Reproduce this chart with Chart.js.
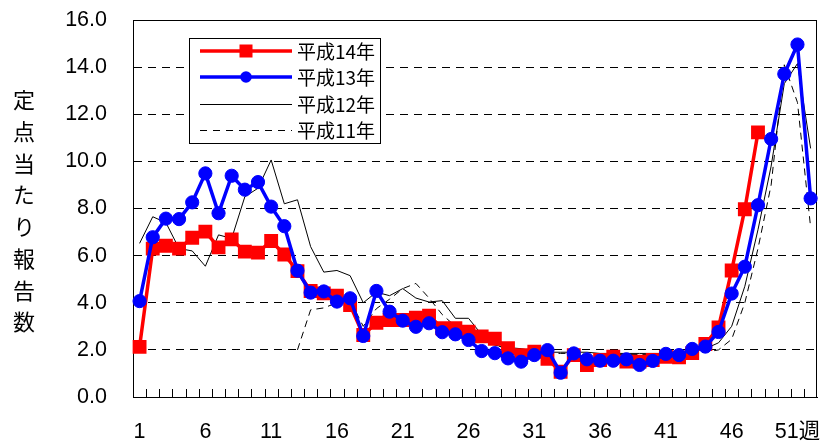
<!DOCTYPE html>
<html><head><meta charset="utf-8">
<script src="https://cdn.jsdelivr.net/npm/chart.js@4.4.0/dist/chart.umd.min.js"></script>
<style>
html,body{margin:0;padding:0;background:#fff;}
#wrap{position:relative;width:827px;height:443px;}
#ytitle{position:absolute;left:13px;top:89px;font-size:22px;font-family:"Noto Sans CJK JP",sans-serif;writing-mode:vertical-rl;text-orientation:upright;letter-spacing:9.7px;line-height:22px;color:#000;}
</style></head><body>
<div id="wrap"><canvas id="c" width="827" height="443"></canvas><div id="ytitle">定点当たり報告数</div></div>
<script>
const weeks = ['1','2','3','4','5','6','7','8','9','10','11','12','13','14','15','16','17','18','19','20','21','22','23','24','25','26','27','28','29','30','31','32','33','34','35','36','37','38','39','40','41','42','43','44','45','46','47','48','49','50','51','52'];
const tickLabels = ['1','6','11','16','21','26','31','36','41','46','51週'];
const seriesNames = ['平成14年','平成13年','平成12年','平成11年'];

const h14 = [2.13,6.30,6.42,6.30,6.76,7.02,6.35,6.69,6.17,6.13,
             6.62,6.05,5.34,4.50,4.40,4.30,3.90,2.63,3.15,3.27,
             3.27,3.37,3.45,2.92,2.92,2.77,2.57,2.47,2.07,1.78,
             1.92,1.62,1.07,1.78,1.36,1.57,1.71,1.50,1.50,1.57,
             1.70,1.68,1.86,2.25,2.95,5.37,7.97,11.23,null,null,
             null,null];
const h13 = [4.07,6.78,7.57,7.55,8.26,9.49,7.80,9.39,8.80,9.12,
             8.08,7.25,5.36,4.43,4.48,4.05,4.19,2.59,4.50,3.62,
             3.24,2.98,3.13,2.75,2.66,2.42,1.95,1.86,1.64,1.50,
             1.78,1.99,1.03,1.85,1.60,1.54,1.54,1.60,1.36,1.53,
             1.83,1.78,2.04,2.14,2.76,4.39,5.53,8.14,10.95,13.71,
             14.96,8.43];
const h12 = [6.52,7.65,7.40,6.30,6.20,5.55,6.88,6.73,8.50,8.86,
             10.06,8.20,8.37,6.38,5.30,5.37,5.15,4.00,4.45,4.30,
             4.60,4.20,4.03,4.09,3.34,3.34,2.65,2.20,2.10,2.05,
             1.95,1.90,1.90,1.90,1.90,1.85,1.85,1.85,1.85,1.85,
             1.85,1.90,1.95,2.05,2.30,3.00,4.70,7.10,9.80,13.30,
             14.15,10.55];
const h11 = [null,null,null,null,null,null,null,null,null,null,
             null,null,2.00,3.70,3.78,4.00,4.10,3.00,3.75,4.15,
             4.60,4.82,4.20,3.50,3.00,2.70,2.40,2.20,2.05,1.95,
             1.90,1.85,1.85,1.85,1.80,1.80,1.80,1.80,1.80,1.80,
             1.80,1.85,1.85,1.90,2.00,2.45,4.00,6.30,9.00,14.10,
             12.50,7.20];

const numFont = '"Liberation Sans", Arial, "Noto Sans CJK JP", sans-serif';

const framePlugin = {
  id: 'frame',
  beforeDatasetsDraw(chart) {
    const {ctx, chartArea: a, scales: {x}} = chart;
    ctx.save();
    ctx.strokeStyle = '#000';
    ctx.lineWidth = 1;
    ctx.setLineDash([]);
    ctx.strokeRect(Math.round(a.left) + 0.5, Math.round(a.top) + 0.5, Math.round(a.right - a.left) - 1, Math.round(a.bottom - a.top));
    ctx.beginPath();
    for (let i = 0; i < weeks.length - 1; i++) {
      const px = Math.round((x.getPixelForValue(i) + x.getPixelForValue(i + 1)) / 2) + 0.5;
      ctx.moveTo(px, a.bottom);
      ctx.lineTo(px, a.bottom - 8);
    }
    ctx.stroke();
    ctx.restore();
  }
};

const legendPlugin = {
  id: 'boxLegend',
  afterDatasetsDraw(chart) {
    const ctx = chart.ctx;
    ctx.save();
    ctx.fillStyle = '#fff';
    ctx.fillRect(189, 38, 192, 106);
    ctx.strokeStyle = '#000';
    ctx.lineWidth = 1;
    ctx.strokeRect(189.5, 38.5, 191, 105);
    const rows = [51, 77, 104, 130];
    const x1 = 200, x2 = 292, xm = 246;
    ctx.strokeStyle = '#ff0000'; ctx.lineWidth = 3.5;
    ctx.beginPath(); ctx.moveTo(x1, rows[0]); ctx.lineTo(x2, rows[0]); ctx.stroke();
    ctx.fillStyle = '#ff0000'; ctx.fillRect(xm - 6.5, rows[0] - 6.5, 13, 13);
    ctx.strokeStyle = '#0000ff';
    ctx.beginPath(); ctx.moveTo(x1, rows[1]); ctx.lineTo(x2, rows[1]); ctx.stroke();
    ctx.fillStyle = '#0000ff'; ctx.beginPath(); ctx.arc(xm, rows[1], 5.8, 0, Math.PI * 2); ctx.fill();
    ctx.strokeStyle = '#000'; ctx.lineWidth = 1;
    ctx.beginPath(); ctx.moveTo(x1, rows[2] + 0.5); ctx.lineTo(x2, rows[2] + 0.5); ctx.stroke();
    ctx.setLineDash([7, 6]);
    ctx.beginPath(); ctx.moveTo(x1, rows[3] + 0.5); ctx.lineTo(x2, rows[3] + 0.5); ctx.stroke();
    ctx.setLineDash([]);
    ctx.fillStyle = '#000';
    ctx.font = '19px "Noto Sans CJK JP", sans-serif';
    ctx.textBaseline = 'middle';
    ctx.textAlign = 'left';
    for (let i = 0; i < 4; i++) ctx.fillText(seriesNames[i], 297, rows[i] + 1);
    ctx.restore();
  }
};

new Chart(document.getElementById('c'), {
  type: 'line',
  data: {
    labels: weeks,
    datasets: [
      { label: seriesNames[1], data: h13, order: 0, borderColor: '#0000ff', backgroundColor: '#0000ff',
        borderWidth: 3.5, pointStyle: 'circle', pointRadius: 6.6, pointBorderWidth: 1,
        pointBackgroundColor: '#0000ff', pointBorderColor: '#0000ff' },
      { label: seriesNames[0], data: h14, order: 1, borderColor: '#ff0000', backgroundColor: '#ff0000',
        borderWidth: 3.5, pointStyle: 'rect', pointRadius: 9.8, pointBorderWidth: 0,
        pointBackgroundColor: '#ff0000', pointBorderColor: '#ff0000' },
      { label: seriesNames[2], data: h12, order: 2, borderColor: '#000', borderWidth: 1, pointRadius: 0 },
      { label: seriesNames[3], data: h11, order: 3, borderColor: '#000', borderWidth: 1, pointRadius: 0, borderDash: [7, 5] }
    ]
  },
  options: {
    responsive: false,
    animation: false,
    devicePixelRatio: 1,
    layout: { padding: { top: 20, right: 6, left: 0, bottom: 0 } },
    elements: { line: { tension: 0 } },
    plugins: { legend: { display: false }, tooltip: { enabled: false } },
    scales: {
      x: {
        type: 'category', offset: true,
        grid: { display: true, drawOnChartArea: false, drawTicks: true, tickLength: 22,
                color: 'rgba(0,0,0,0)', tickColor: 'rgba(0,0,0,0)' },
        border: { display: true, color: '#000', width: 1 },
        ticks: {
          autoSkip: false, maxRotation: 0, minRotation: 0, padding: 0, color: '#000',
          font: { family: numFont, size: 21.5 },
          callback: (v, i) => (i % 5 === 0 ? tickLabels[i / 5] : '')
        },
        afterFit: s => { s.height = 46; }
      },
      y: {
        min: 0, max: 16,
        ticks: { stepSize: 2, padding: 0, color: '#000', font: { family: numFont, size: 21.5 },
                 callback: v => Number(v).toFixed(1) },
        grid: { drawTicks: true, tickLength: 26, tickColor: 'rgba(0,0,0,0)', lineWidth: 1,
                color: c => (c.tick && (c.tick.value === 0 || c.tick.value === 16)) ? 'rgba(0,0,0,0)' : '#000' },
        border: { display: true, color: '#000', width: 1, dash: [8, 6] },
        afterFit: s => { s.width = 133; }
      }
    }
  },
  plugins: [framePlugin, legendPlugin]
});
</script>
</body></html>
